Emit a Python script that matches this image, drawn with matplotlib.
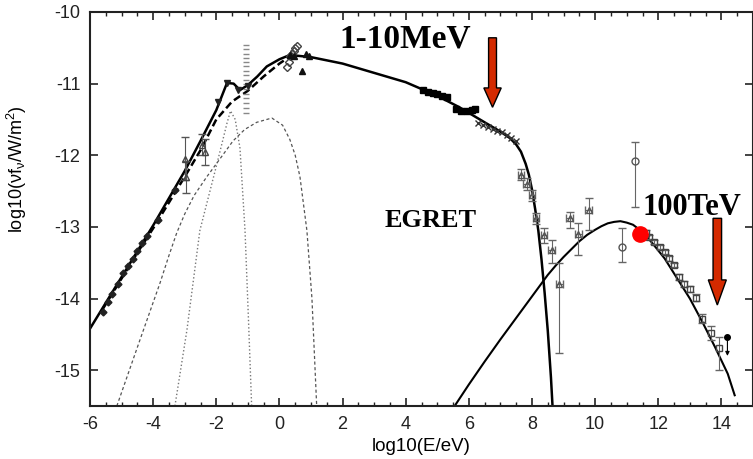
import numpy as np
import matplotlib
matplotlib.use('Agg')
import matplotlib.pyplot as plt
from matplotlib.ticker import MultipleLocator

plt.rcParams['font.family'] = ['Liberation Sans', 'DejaVu Sans']
plt.rcParams['mathtext.fontset'] = 'custom'
plt.rcParams['mathtext.rm'] = 'Liberation Sans'
plt.rcParams['mathtext.it'] = 'Liberation Sans'
plt.rcParams['axes.unicode_minus'] = False

# --- model curves ---
sync_x = [-6.0, -5.0, -4.0, -3.0, -2.5, -2.0, -1.66, -1.45, -1.25, -1.0, -0.7, -0.4, 0.0, 0.33,
          1.0, 2.0, 3.0, 4.0, 5.0, 5.7, 6.5, 7.0, 7.3, 7.5, 7.65, 7.8, 7.9, 8.0, 8.1, 8.2, 8.3,
          8.4, 8.5, 8.6, 8.65]
sync_y = [-14.42, -13.7, -12.98, -12.22, -11.8, -11.37, -10.99, -11.0, -11.09, -11.02, -10.9,
          -10.76, -10.66, -10.6, -10.63, -10.72, -10.85, -10.98, -11.17, -11.33, -11.54, -11.67,
          -11.76, -11.85, -11.95, -12.12, -12.27, -12.48, -12.75, -13.05, -13.45, -13.92, -14.45,
          -15.1, -15.5]

ic_x = [5.55, 6.0, 6.5, 7.0, 7.5, 8.0, 8.5, 8.75, 9.0, 9.25, 9.5, 9.75, 10.0, 10.2, 10.4, 10.6,
        10.8, 11.0, 11.2, 11.5, 11.8, 12.2, 12.6, 13.0, 13.4, 13.8, 14.2, 14.42]
ic_y = [-15.5, -15.2, -14.88, -14.57, -14.27, -13.97, -13.67, -13.54, -13.42, -13.31, -13.2,
        -13.11, -13.04, -12.99, -12.95, -12.93, -12.92, -12.94, -12.97, -13.07, -13.22, -13.44,
        -13.72, -14.0, -14.33, -14.68, -15.05, -15.35]

sync2_x = [-5.6, -5.0, -4.5, -4.0, -3.5, -3.0, -2.5, -2.0, -1.5, -1.0, -0.5, 0.0, 0.3]
sync2_y = [-14.15, -13.72, -13.36, -13.02, -12.66, -12.3, -11.93, -11.5, -11.25, -11.1, -10.9,
           -10.72, -10.63]

bump_x = [-5.15, -4.42, -3.78, -3.5, -3.25, -3.0, -2.7, -2.3, -1.9, -1.47, -1.1, -0.72, -0.24,
          0.1, 0.33, 0.5, 0.65, 0.87, 1.03, 1.18]
bump_y = [-15.5, -14.58, -13.78, -13.4, -13.08, -12.82, -12.56, -12.3, -12.06, -11.8, -11.64,
          -11.54, -11.48, -11.58, -11.78, -12.0, -12.3, -13.05, -14.0, -15.5]

star_x = [-3.31, -2.93, -2.52, -1.98, -1.66, -1.55, -1.4, -1.25, -1.09, -0.98, -0.88]
star_y = [-15.5, -14.44, -13.05, -12.12, -11.55, -11.38, -11.5, -11.9, -13.05, -14.3, -15.5]

# --- measured points ---
radio_x = [-5.59, -5.43, -5.3, -5.11, -4.95, -4.8, -4.65, -4.5, -4.35, -4.2, -3.85, -3.31]
radio_y = [-14.19, -14.05, -13.93, -13.79, -13.65, -13.55, -13.45, -13.33, -13.22, -13.13,
           -12.9, -12.49]

ir_x = [-3.0, -2.95, -2.45, -2.35]
ir_y = [-12.05, -12.3, -11.85, -11.95]
ir_err = [0.3, 0.22, 0.15, 0.18]

opt_x = [-1.93, -1.66, -1.32, -1.0]
opt_y = [-11.26, -10.99, -11.09, -11.03]

col_x = [-1.05, -1.05, -1.05, -1.05, -1.05, -1.05, -1.05, -1.05, -1.05, -1.05, -1.05, -1.05,
         -1.05, -1.05, -1.05, -1.05]
col_y = [-10.46, -10.52, -10.58, -10.64, -10.7, -10.76, -10.82, -10.88, -10.95, -11.01, -11.07,
         -11.14, -11.2, -11.27, -11.34, -11.41]

uv_x = [0.25, 0.3, 0.35, 0.4, 0.45, 0.5, 0.55]
uv_y = [-10.77, -10.7, -10.62, -10.58, -10.55, -10.5, -10.47]
uvb_x = [0.35, 0.45, 0.71, 0.85, 0.95]
uvb_y = [-10.6, -10.62, -10.82, -10.58, -10.62]

xr_x = [4.55, 4.7, 4.85, 5.0, 5.15, 5.3, 5.6, 5.75, 5.95, 6.1, 6.2]
xr_y = [-11.09, -11.11, -11.13, -11.15, -11.17, -11.19, -11.36, -11.38, -11.38, -11.37, -11.35]

hx_x = [6.3, 6.45, 6.6, 6.75, 6.9, 7.05, 7.2, 7.35, 7.5]
hx_y = [-11.55, -11.58, -11.6, -11.63, -11.66, -11.68, -11.72, -11.76, -11.8]

g_x = [7.65, 7.83, 7.99, 8.12, 8.37, 8.62, 8.87, 9.19, 9.47, 9.79]
g_y = [-12.27, -12.4, -12.56, -12.88, -13.11, -13.32, -13.79, -12.88, -13.1, -12.77]
g_up = [0.08, 0.08, 0.08, 0.08, 0.1, 0.14, 0.28, 0.09, 0.15, 0.17]
g_dn = [0.08, 0.08, 0.08, 0.08, 0.12, 0.19, 0.97, 0.14, 0.29, 0.28]

circ_x = [10.84, 11.25]
circ_y = [-13.28, -12.08]
circ_up = [0.26, 0.27]
circ_dn = [0.21, 0.64]

tev_x = [11.6, 11.72, 11.88, 12.04, 12.2, 12.35, 12.51, 12.67, 12.83, 12.99, 13.2, 13.4, 13.68,
         13.92]
tev_y = [-13.08, -13.14, -13.21, -13.28, -13.35, -13.44, -13.53, -13.7, -13.8, -13.87, -13.99,
         -14.28, -14.48, -14.69]
tev_up = [0.03, 0.03, 0.03, 0.03, 0.03, 0.03, 0.03, 0.04, 0.04, 0.04, 0.05, 0.06, 0.1, 0.15]
tev_dn = [0.03, 0.03, 0.03, 0.03, 0.03, 0.03, 0.03, 0.04, 0.04, 0.04, 0.05, 0.06, 0.1, 0.31]

ul_x = [14.19]
ul_y = [-14.54]

red_x = [11.42]
red_y = [-13.1]

# label arrows: x, top, tip
arrow_x = [6.75, 13.87]
arrow_top = [-10.36, -12.88]
arrow_tip = [-11.33, -14.09]

fig = plt.figure(figsize=(7.53, 4.59), dpi=100)
ax = fig.add_axes([90 / 753, 53 / 459, 663 / 753, 394 / 459])

ax.plot(star_x, star_y, ':', color='#777777', lw=1.0)
ax.plot(bump_x, bump_y, '--', color='#555555', lw=0.9, dashes=(2.5, 2))
ax.plot(sync2_x, sync2_y, '--', color='black', lw=1.8, dashes=(3, 1.5))
ax.plot(sync_x, sync_y, '-', color='black', lw=1.8)
ax.plot(ic_x, ic_y, '-', color='black', lw=1.5)

ax.plot(col_x, col_y, '_', color='#888888', ms=5, mew=1)
ax.plot(radio_x, radio_y, 'D', color='#222222', ms=3.5)
ax.errorbar(ir_x, ir_y, yerr=ir_err, fmt='^', mfc='none', mec='#444444', ecolor='#555555',
            ms=5, capsize=3, elinewidth=0.8)
ax.plot(opt_x, opt_y, 'v', color='#222222', ms=5)
ax.plot(uv_x, uv_y, 'D', mfc='none', mec='#444444', ms=4)
ax.plot(uvb_x, uvb_y, '^', color='#111111', ms=5)
ax.plot(xr_x, xr_y, 's', color='black', ms=5)
ax.plot(hx_x, hx_y, 'x', color='#333333', ms=4, mew=1)

ax.errorbar(g_x, g_y, yerr=[g_dn, g_up], xerr=0.1, fmt='^', mfc='none', mec='#555555',
            ecolor='#666666', ms=4, capsize=3, elinewidth=0.8)
ax.errorbar(circ_x, circ_y, yerr=[circ_dn, circ_up], fmt='o', mfc='none', mec='#555555',
            ecolor='#666666', ms=5, capsize=3, elinewidth=0.8)
ax.errorbar(tev_x, tev_y, yerr=[tev_dn, tev_up], fmt='s', mfc='none', mec='#444444',
            ecolor='#666666', ms=5, capsize=3, elinewidth=0.8)
ax.plot(ul_x, ul_y, 'o', color='black', ms=4)
ax.annotate('', xy=(ul_x[0], ul_y[0] - 0.3), xytext=(ul_x[0], ul_y[0]),
            arrowprops=dict(arrowstyle='-|>', color='black', lw=0.8, mutation_scale=6))

ax.plot(red_x, red_y, 'o', color='red', ms=11, zorder=5)

ax.arrow(arrow_x[0], arrow_top[0], 0, arrow_tip[0] - arrow_top[0], width=0.25,
         head_width=0.55, head_length=0.27, length_includes_head=True,
         fc='#d42a00', ec='black', lw=1, zorder=6)
ax.arrow(arrow_x[1], arrow_top[1], 0, arrow_tip[1] - arrow_top[1], width=0.27,
         head_width=0.57, head_length=0.35, length_includes_head=True,
         fc='#d42a00', ec='black', lw=1, zorder=6)

ax.text(1.91, -10.5, '1-10MeV', family='Liberation Serif', weight='bold', fontsize=24)
ax.text(11.5, -12.84, '100TeV', family='Liberation Serif', weight='bold', fontsize=22)
ax.text(3.34, -13.0, 'EGRET', family='Liberation Serif', weight='bold', fontsize=19)

ax.set_xlim(-6, 15)
ax.set_ylim(-15.5, -10)
ax.xaxis.set_major_locator(MultipleLocator(2))
ax.xaxis.set_minor_locator(MultipleLocator(0.5))
ax.yaxis.set_major_locator(MultipleLocator(1))
ax.tick_params(which='both', direction='in', top=True, right=True, colors='#222222',
               labelsize=13)
ax.tick_params(which='major', length=6, width=1.2)
ax.tick_params(which='minor', length=3, width=1)
ax.tick_params(axis='x', pad=7)
ax.tick_params(axis='y', pad=7)
for s in ax.spines.values():
    s.set_linewidth(1.5)
    s.set_color('#222222')

ax.set_xlabel('log10(E/eV)', fontsize=13.5, labelpad=4)
ax.set_ylabel(r'log10($\nu$f$_\nu$/W/m$^2$)', fontsize=13)
ax.yaxis.set_label_coords(-0.092, 0.6)

fig.savefig('out.png', dpi=100)
